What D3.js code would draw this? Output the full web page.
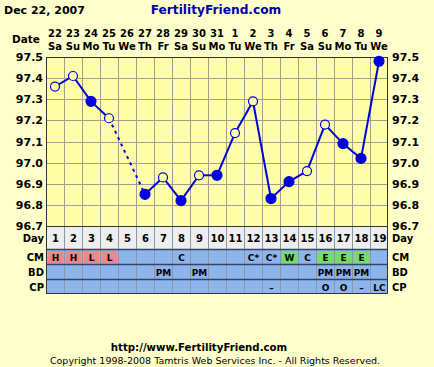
<!DOCTYPE html>
<html><head><meta charset="utf-8">
<script src="https://cdn.jsdelivr.net/npm/d3@7"></script>
<style>body{margin:0;background:#FFFFCC}svg{display:block}</style>
</head><body>
<script>
const dayNums = [1,2,3,4,5,6,7,8,9,10,11,12,13,14,15,16,17,18,19];
const dates = ["22","23","24","25","26","27","28","29","30","31","1","2","3","4","5","6","7","8","9"];
const weekdays = ["Sa","Su","Mo","Tu","We","Th","Fr","Sa","Su","Mo","Tu","We","Th","Fr","Sa","Su","Mo","Tu","We"];
const temps = [97.36,97.41,97.29,97.21,null,96.85,96.93,96.82,96.94,96.94,97.14,97.29,96.83,96.91,96.96,97.18,97.09,97.02,97.48];
const filled = [false,false,true,false,null,true,false,true,false,true,false,false,true,true,false,false,true,true,true];
const yTicks = [96.7,96.8,96.9,97.0,97.1,97.2,97.3,97.4,97.5];
const cm = ["H","H","L","L","","","","C","","","","C*","C*","W","C","E","E","E",""];
const bd = ["","","","","","","PM","","PM","","","","","","","PM","PM","PM",""];
const cp = ["","","","","","","","","","","","","\u2013","","","O","O","\u2013","LC"];
const rowNames = ["CM","BD","CP"];

const W=434,H=367;
const svg=d3.select("body").append("svg").attr("width",W).attr("height",H);
svg.append("rect").attr("width",W).attr("height",H).attr("fill","#FFFFCC");
const font="DejaVu Sans, Verdana, sans-serif";
const L=46,R=388,T=57,B=226;
const x=d3.scaleBand().domain(dayNums).range([L,R]);
const y=d3.scaleLinear().domain([96.7,97.5]).range([B,T]);

// header
svg.append("text").attr("x",4).attr("y",14).text("Dec 22, 2007").attr("font-family",font).attr("font-weight","bold").attr("font-size",11).attr("fill","#000");
svg.append("text").attr("x",216).attr("y",14).attr("text-anchor","middle").text("FertilityFriend.com").attr("font-family",font).attr("font-weight","bold").attr("font-size",12.2).attr("fill","#0000AA");
svg.append("text").attr("x",40).attr("y",43).attr("text-anchor","end").text("Date").attr("font-family",font).attr("font-weight","bold").attr("font-size",10.5);
const g=svg.append("g").attr("font-family",font).attr("font-weight","bold").attr("font-size",10);
g.selectAll("text.dn").data(dayNums).join("text").attr("class","dn").attr("x",d=>x(d)+x.bandwidth()/2).attr("y",37).attr("text-anchor","middle").text((d,i)=>dates[i]);
g.selectAll("text.wd").data(dayNums).join("text").attr("class","wd").attr("x",d=>x(d)+x.bandwidth()/2).attr("y",50).attr("text-anchor","middle").text((d,i)=>weekdays[i]);

// plot bg
svg.append("rect").attr("x",L).attr("y",T).attr("width",R-L).attr("height",B-T).attr("fill","#FFFFAA");
// grid
svg.append("g").selectAll("line").data(yTicks).join("line").attr("x1",L).attr("x2",R).attr("y1",d=>Math.round(y(d))+0.5).attr("y2",d=>Math.round(y(d))+0.5).attr("stroke","#A09F90").attr("stroke-width",1);
svg.append("g").selectAll("line").data(dayNums.slice(1)).join("line").attr("x1",d=>Math.round(x(d))+0.5).attr("x2",d=>Math.round(x(d))+0.5).attr("y1",T).attr("y2",B).attr("stroke","#A09F90");
// y labels
const yl=svg.append("g").attr("font-family",font).attr("font-weight","bold").attr("font-size",11);
yl.selectAll("text.l").data(yTicks).join("text").attr("class","l").attr("x",43).attr("y",d=>y(d)+4).attr("text-anchor","end").text(d=>d.toFixed(1));
yl.selectAll("text.r").data(yTicks).join("text").attr("class","r").attr("x",392).attr("y",d=>y(d)+4).text(d=>d.toFixed(1));

// table
const rowTop=[226,249,264,279];
svg.append("rect").attr("x",L).attr("y",226).attr("width",R-L).attr("height",23).attr("fill","#EEEEEE");
for(let r=0;r<3;r++){
  svg.append("rect").attr("x",L).attr("y",rowTop[r+1]).attr("width",R-L).attr("height",15).attr("fill","#8EB4EC");
}
const arrs=[cm,bd,cp];
arrs.forEach((arr,r)=>{
  svg.append("g").selectAll("rect").data(dayNums).join("rect")
    .attr("x",d=>x(d)+2).attr("y",rowTop[r+1]+2).attr("width",x.bandwidth()-3).attr("height",12)
    .attr("fill",(d,i)=>{const v=arr[i]; if(r===0&&(v==="H"||v==="L"))return "#EE8888"; if(r===0&&(v==="E"||v==="W"))return "#77DD66"; return "none";});
  svg.append("g").attr("font-family",font).attr("font-weight","bold").attr("font-size",9).selectAll("text").data(dayNums).join("text")
    .attr("x",d=>x(d)+x.bandwidth()/2+0.5).attr("y",rowTop[r+1]+11.5).attr("text-anchor","middle").text((d,i)=>arr[i]);
});
// table lines
svg.append("g").selectAll("line").data(dayNums.slice(1)).join("line").attr("x1",d=>Math.round(x(d))+0.5).attr("x2",d=>Math.round(x(d))+0.5).attr("y1",226).attr("y2",294).attr("stroke","#8899AA");
svg.append("g").selectAll("line").data([249,264,279]).join("line").attr("x1",L).attr("x2",R).attr("y1",d=>d+0.5).attr("y2",d=>d+0.5).attr("stroke","#334466").attr("stroke-width",1.5);
svg.append("g").attr("font-family",font).attr("font-weight","bold").attr("font-size",10).selectAll("text").data(dayNums).join("text")
  .attr("x",d=>x(d)+x.bandwidth()/2+0.5).attr("y",242).attr("text-anchor","middle").text(d=>d);
const labs=["Day"].concat(rowNames);
const lg=svg.append("g").attr("font-family",font).attr("font-weight","bold").attr("font-size",10);
labs.forEach((t,i)=>{
  const yy=i===0?242:rowTop[i]+11.5;
  lg.append("text").attr("x",44).attr("y",yy).attr("text-anchor","end").text(t);
  lg.append("text").attr("x",392).attr("y",yy).text(t);
});
// borders
svg.append("rect").attr("x",L+0.5).attr("y",T+0.5).attr("width",R-L-1).attr("height",294-T-1).attr("fill","none").attr("stroke","#333333");
svg.append("line").attr("x1",L).attr("x2",R).attr("y1",B+0.5).attr("y2",B+0.5).attr("stroke","#333333");

// line
const pts=dayNums.map((d,i)=>({d,v:temps[i],f:filled[i]}));
const valid=pts.filter(p=>p.v!==null);
const cx=p=>x(p.d)+x.bandwidth()/2, cy=p=>y(p.v);
const lineG=svg.append("g");
for(let i=0;i<valid.length-1;i++){
  const a=valid[i],b=valid[i+1];
  lineG.append("line").attr("x1",cx(a)).attr("y1",cy(a)).attr("x2",cx(b)).attr("y2",cy(b))
    .attr("stroke","#0000DD").attr("stroke-width",2).attr("stroke-dasharray",b.d-a.d>1?"3,4":null);
}
svg.append("g").selectAll("circle").data(valid).join("circle").attr("cx",cx).attr("cy",cy)
  .attr("r",d=>d.f?5:4.5).attr("fill",d=>d.f?"#0000DD":"#FFFFAA").attr("stroke","#0000DD").attr("stroke-width",1.2);

// footer
svg.append("text").attr("x",199).attr("y",351).attr("text-anchor","middle").text("http://www.FertilityFriend.com").attr("font-family",font).attr("font-weight","bold").attr("font-size",10.2);
svg.append("text").attr("x",215).attr("y",364).attr("text-anchor","middle").text("Copyright 1998-2008 Tamtris Web Services Inc. - All Rights Reserved.").attr("font-family",font).attr("font-size",9.5);
</script>
</body></html>
